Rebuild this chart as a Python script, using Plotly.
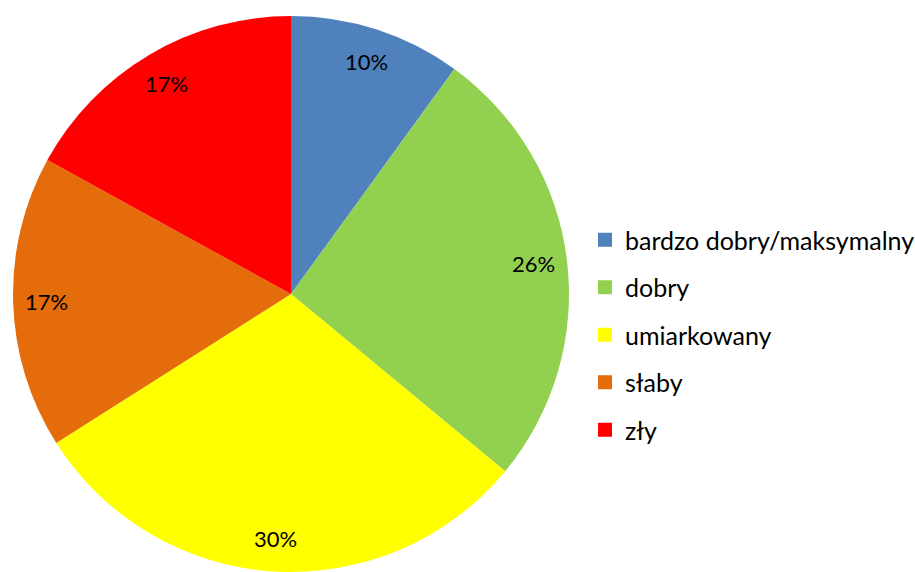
import math
import plotly.graph_objects as go

# Share of water bodies by ecological status class
categories = ["bardzo dobry/maksymalny", "dobry", "umiarkowany", "słaby", "zły"]
shares = [10, 26, 30, 17, 17]
colors = ["#4F81BD", "#92D050", "#FFFF00", "#E46C0A", "#FF0000"]

W, H = 915, 572
TOP = 16
FONT = "Lato"

# Pie geometry in pixels (paper spans the area below the top margin)
pie_cx, pie_size = 291, H - TOP
pie_r = pie_size / 2
pie_cy = TOP + pie_r

fig = go.Figure()
fig.add_trace(go.Pie(
    labels=categories,
    values=shares,
    sort=False,
    direction="clockwise",
    rotation=0,
    marker=dict(colors=colors, line=dict(width=0)),
    textinfo="none",
    hoverinfo="label+percent",
    showlegend=False,
    domain=dict(x=[(pie_cx - pie_r) / W, (pie_cx + pie_r) / W], y=[0, 1]),
))

# Legend entries: one square marker per category, spaced like separate groups
for name, col in zip(categories, colors):
    fig.add_trace(go.Scatter(
        x=[None], y=[None], mode="markers", name=name, legendgroup=name,
        marker=dict(symbol="square", size=14, color=col),
        hoverinfo="skip",
    ))

# Percentage labels placed along each slice's mid-angle near the rim
total = sum(shares)
cum = 0
annotations = []
for v in shares:
    mid = (cum + v / 2) / total * 2 * math.pi
    cum += v
    rr = pie_r * 0.88
    px = pie_cx + rr * math.sin(mid)
    py = pie_cy - rr * math.cos(mid)
    annotations.append(dict(
        x=px / W, y=1 - (py - TOP) / pie_size, xref="paper", yref="paper",
        text=f"{round(v / total * 100)}%", showarrow=False,
        font=dict(family=FONT, size=22, color="black"),
        xanchor="center", yanchor="middle",
    ))

fig.update_layout(
    width=W, height=H,
    margin=dict(l=0, r=0, t=TOP, b=0, autoexpand=False),
    paper_bgcolor="white", plot_bgcolor="white",
    xaxis=dict(visible=False), yaxis=dict(visible=False),
    showlegend=True,
    legend=dict(
        x=585 / W, y=1 - (335 - TOP) / pie_size, xanchor="left", yanchor="middle",
        font=dict(family=FONT, size=25, color="black"),
        tracegroupgap=12, itemclick=False, itemdoubleclick=False,
        bgcolor="rgba(0,0,0,0)",
    ),
    annotations=annotations,
)

fig.write_html("out.html")
